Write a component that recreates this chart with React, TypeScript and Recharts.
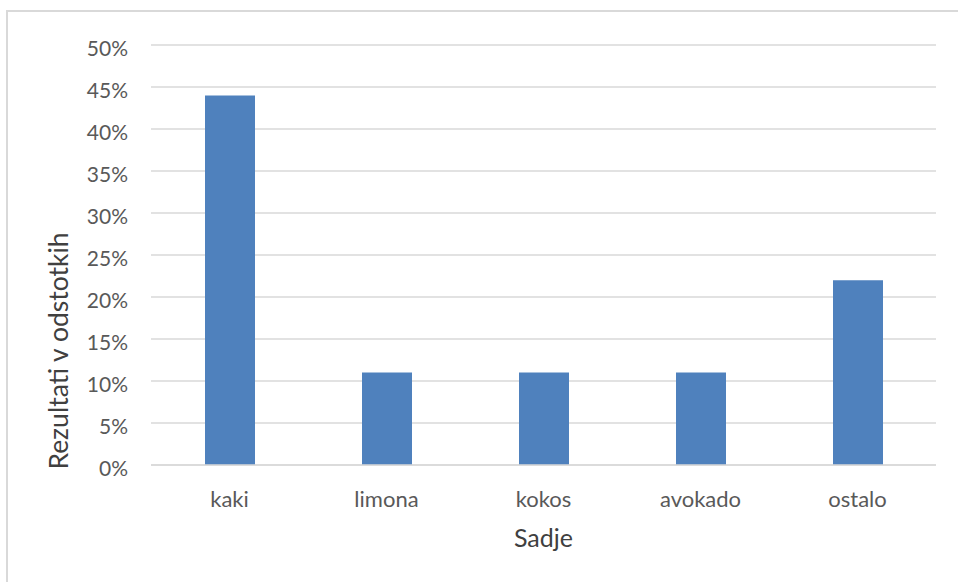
import { Bar, BarChart, CartesianGrid, XAxis, YAxis } from "recharts";

// Sadje – rezultati ankete v odstotkih
const fruits = ["kaki", "limona", "kokos", "avokado", "ostalo"];
const shares = [44, 11, 11, 11, 22];
const yTicks = [0, 5, 10, 15, 20, 25, 30, 35, 40, 45, 50];

const data = fruits.map((name, i) => ({ name, value: shares[i] }));

const FONT = "Lato, 'Open Sans', sans-serif";
const TICK_COLOR = "#595959";
const TITLE_COLOR = "#404040";
const BAR_COLOR = "#4f81bd";
const GRID_COLOR = "#d9d9d9";

const W = 958;
const H = 582;

function YTick({ x, y, payload }: any) {
  return (
    <text
      x={x}
      y={y + 11}
      textAnchor="end"
      fill={TICK_COLOR}
      fontSize={21}
      fontFamily={FONT}
    >
      {payload.value}%
    </text>
  );
}

function XTick({ x, y, payload }: any) {
  return (
    <text
      x={x}
      y={y + 42}
      textAnchor="middle"
      fill={TICK_COLOR}
      fontSize={22}
      fontFamily={FONT}
    >
      {payload.value}
    </text>
  );
}

function YTitle({ viewBox }: any) {
  const cx = 58;
  const cy = viewBox.y + viewBox.height / 2 + 96;
  return (
    <text
      x={cx}
      y={cy}
      transform={`rotate(-90, ${cx}, ${cy})`}
      textAnchor="middle"
      dominantBaseline="central"
      fill={TITLE_COLOR}
      fontSize={26.5}
      fontFamily={FONT}
    >
      Rezultati v odstotkih
    </text>
  );
}

function XTitle({ viewBox }: any) {
  return (
    <text
      x={viewBox.x + viewBox.width / 2}
      y={viewBox.y + 82}
      textAnchor="middle"
      fill={TITLE_COLOR}
      fontSize={25}
      fontFamily={FONT}
    >
      Sadje
    </text>
  );
}

export default function App() {
  return (
    <div
      style={{
        position: "absolute",
        left: 0,
        top: 0,
        width: W,
        height: H,
        overflow: "hidden",
        background: "#fff",
      }}
    >
      {/* chart area frame, runs off the right and bottom edges */}
      <div
        style={{
          position: "absolute",
          left: 6,
          top: 10,
          width: W + 10,
          height: H + 10,
          borderTop: `2px solid ${GRID_COLOR}`,
          borderLeft: `2px solid ${GRID_COLOR}`,
        }}
      />
      <BarChart
        width={W}
        height={H}
        data={data}
        margin={{ top: 45, right: 22, bottom: 87, left: 0 }}
        barSize={50}
        style={{ position: "absolute", left: 0, top: 0 }}
      >
        <CartesianGrid
          vertical={false}
          stroke={GRID_COLOR}
          strokeWidth={1.5}
        />
        <XAxis
          dataKey="name"
          height={30}
          axisLine={{ stroke: GRID_COLOR, strokeWidth: 1.5 }}
          tickLine={false}
          tickSize={0}
          tickMargin={0}
          tick={<XTick />}
          interval={0}
          label={<XTitle />}
        />
        <YAxis
          width={151}
          domain={[0, 50]}
          ticks={yTicks}
          axisLine={false}
          tickLine={false}
          tickSize={0}
          tickMargin={23}
          tick={<YTick />}
          interval={0}
          label={<YTitle />}
        />
        <Bar dataKey="value" fill={BAR_COLOR} isAnimationActive={false} />
      </BarChart>
    </div>
  );
}
